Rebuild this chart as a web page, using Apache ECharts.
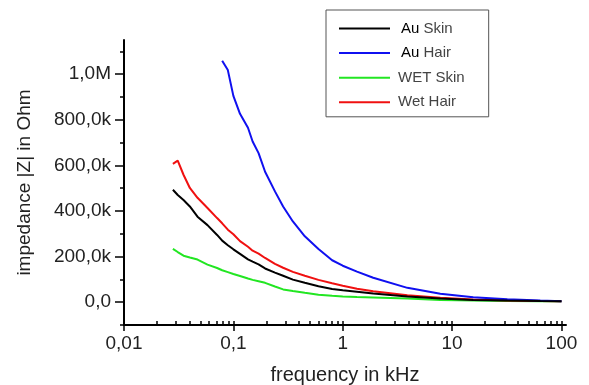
<!DOCTYPE html>
<html>
<head>
<meta charset="utf-8">
<script src="https://cdn.jsdelivr.net/npm/echarts@6/dist/echarts.min.js"></script>
<style>
html,body{margin:0;padding:0;background:#fff;}
#chart{width:589px;height:385px;}
</style>
</head>
<body>
<div id="chart"></div>
<script>
// frequency in kHz
const freqs = [0.028, 0.031, 0.035, 0.040, 0.047, 0.058, 0.071, 0.079, 0.089, 0.1, 0.115, 0.136, 0.15, 0.17, 0.195, 0.24, 0.285, 0.35, 0.45, 0.6, 0.8, 1, 1.35, 1.9, 3.9, 7.8, 15.6, 32, 64, 100];
// impedance in kOhm
const auSkin = [493, 470, 448, 420, 375, 338, 295, 270, 250, 232, 212, 188, 178, 166, 148, 130, 116, 99, 85, 70, 58, 52, 46, 38, 25, 16, 10, 7, 5, 4];
const auHair = [null, null, null, null, null, null, null, 1059, 1018, 905, 826, 765, 705, 654, 572, 486, 420, 354, 289, 233, 184, 160, 134, 107, 63, 37, 22, 13, 7, 4];
const wetSkin = [234, 220, 204, 196, 187, 165, 150, 140, 132, 124, 115, 104, 98, 92, 85, 69, 56, 49, 41, 33, 28, 25, 23, 21, 16, 10, 7, 5, 4, 4];
const wetHair = [607, 621, 559, 501, 458, 413, 369, 346, 318, 298, 268, 243, 226, 213, 194, 168, 151, 133, 116, 98, 83, 72, 59, 48, 31, 19, 12, 7, 5, 4];

const seriesNames = ['Au Skin', 'Au Hair', 'WET Skin', 'Wet Hair'];
const seriesColors = ['#000000', '#1010f0', '#22e622', '#f01010'];

const xTickLabels = [0.01, 0.1, 1, 10, 100];
const xMinorTicks = [0.02,0.03,0.04,0.05,0.06,0.07,0.08,0.09,0.2,0.3,0.4,0.5,0.6,0.7,0.8,0.9,2,3,4,5,6,7,8,9,20,30,40,50,60,70,80,90];
const yTickLabels = [0, 200, 400, 600, 800, 1000];
const yMinorTicks = [-100, 100, 300, 500, 700, 900, 1100];

const FONT = 'Liberation Sans';
function pairs(vals){ return freqs.map((f,i)=>[f, vals[i]]).filter(p=>p[1]!==null); }

const chart = echarts.init(document.getElementById('chart'), null, {renderer:'canvas'});
const common = {type:'log', logBase:10, min:0.01, max:110, gridIndex:0, position:'bottom', splitLine:{show:false}, minorSplitLine:{show:false}};
const yCommon = {type:'value', min:-100, max:1150, gridIndex:0, position:'left', splitLine:{show:false}};
const valuesByName = {'Au Skin':auSkin, 'Au Hair':auHair, 'WET Skin':wetSkin, 'Wet Hair':wetHair};
const drawOrder = ['WET Skin', 'Wet Hair', 'Au Hair', 'Au Skin'];

chart.setOption({
  animation:false,
  backgroundColor:'#fff',
  grid:{left:124, right:23, top:40, bottom:60, containLabel:false, outerBoundsMode:'none'},
  xAxis:[
    Object.assign({}, common, {
      name:'frequency in kHz', nameLocation:'middle', nameGap:40,
      nameTextStyle:{fontFamily:FONT, fontSize:20, color:'#222'},
      axisLine:{onZero:false, lineStyle:{color:'#000', width:2}},
      axisTick:{customValues:xTickLabels, length:6, lineStyle:{color:'#000', width:1.5}},
      axisLabel:{customValues:xTickLabels, margin:9, fontFamily:FONT, fontSize:19, color:'#222',
        formatter:v=>String(v).replace('.', ',')}
    }),
    Object.assign({}, common, {
      axisLine:{show:false, onZero:false},
      axisTick:{customValues:xMinorTicks.concat(xTickLabels), inside:true, length:4, lineStyle:{color:'#000', width:1.5}},
      axisLabel:{show:false}
    })
  ],
  yAxis:[
    Object.assign({}, yCommon, {
      name:'impedance |Z| in Ohm', nameLocation:'middle', nameGap:90,
      nameTextStyle:{fontFamily:FONT, fontSize:19, color:'#222'},
      axisLine:{onZero:false, lineStyle:{color:'#000', width:2}},
      axisTick:{customValues:yTickLabels, length:9, lineStyle:{color:'#000', width:1.5}},
      axisLabel:{customValues:yTickLabels, margin:13, fontFamily:FONT, fontSize:19, color:'#222',
        formatter:v=>{
          if (v === 0) return '0,0';
          if (v >= 1000) return (v/1000).toFixed(1).replace('.', ',') + 'M';
          return v.toFixed(1).replace('.', ',') + 'k';
        }}
    }),
    Object.assign({}, yCommon, {
      axisLine:{show:false, onZero:false},
      axisTick:{customValues:yMinorTicks, length:4, lineStyle:{color:'#000', width:1.5}},
      axisLabel:{show:false}
    })
  ],
  legend:{
    data:seriesNames, orient:'vertical', left:326, top:10,
    padding:[11,24,7,13], itemGap:9.6, itemWidth:51, itemHeight:2, icon:'rect',
    borderColor:'#555', borderWidth:1, backgroundColor:'#fff',
    textStyle:{fontFamily:FONT, fontSize:15, color:'#444', padding:[0,0,0,3],
      rich:{au:{fontFamily:FONT, fontSize:15, color:'#000', padding:[0,0,0,3]}}},
    formatter:n=> n.indexOf('Au ')===0 ? '{au|Au} ' + n.slice(3) : n
  },
  series: drawOrder.map(n=>({
    name:n, type:'line', xAxisIndex:0, yAxisIndex:0,
    data:pairs(valuesByName[n]), showSymbol:false, symbol:'none',
    color:seriesColors[seriesNames.indexOf(n)],
    lineStyle:{width:2, color:seriesColors[seriesNames.indexOf(n)]},
    z:2
  }))
});
</script>
</body>
</html>
